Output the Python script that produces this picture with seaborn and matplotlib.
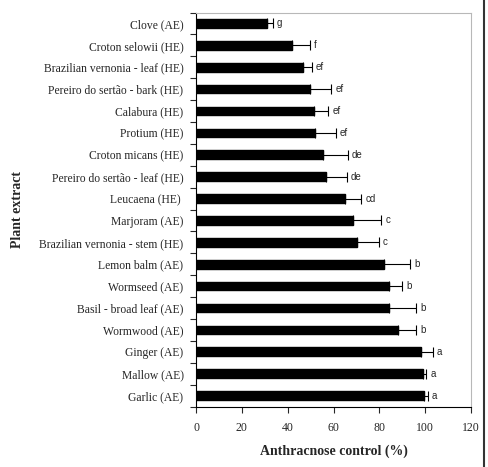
import numpy as np
import pandas as pd
import matplotlib
matplotlib.use('Agg')
import matplotlib.pyplot as plt
from matplotlib.lines import Line2D
import seaborn as sns

sns.set_style('white')
plt.rcParams['font.family'] = ['Liberation Serif', 'DejaVu Serif']

extracts = ['Clove (AE)', 'Croton selowii (HE)', 'Brazilian vernonia - leaf (HE)',
            'Pereiro do sertão - bark (HE)', 'Calabura (HE)', 'Protium (HE)',
            'Croton micans (HE)', 'Pereiro do sertão - leaf (HE)', 'Leucaena (HE) ',
            'Marjoram (AE)', 'Brazilian vernonia - stem (HE)', 'Lemon balm (AE)',
            'Wormseed (AE)', 'Basil - broad leaf (AE)', 'Wormwood (AE)',
            'Ginger (AE)', 'Mallow (AE)', 'Garlic (AE)']
control = [30.8, 41.9, 46.6, 49.8, 51.5, 52.0, 55.6, 56.8, 64.9,
           68.3, 70.2, 82.1, 84.0, 84.0, 88.1, 98.3, 99.0, 99.3]
error = [2.6, 7.9, 4.0, 9.3, 6.3, 9.0, 10.6, 9.0, 7.2,
         12.5, 9.6, 11.3, 6.1, 12.1, 8.0, 4.9, 1.4, 1.9]
letters = ['g', 'f', 'ef', 'ef', 'ef', 'ef', 'de', 'de', 'cd',
           'c', 'c', 'b', 'b', 'b', 'b', 'a', 'a', 'a']

df = pd.DataFrame({'extract': extracts, 'control': control, 'err': error, 'letter': letters})

fig = plt.figure(figsize=(4.88, 4.67), dpi=100)
ax = fig.add_axes([196/488, 1 - 406.5/467, 275/488, 394/467])

sns.barplot(data=df, x='control', y='extract', orient='h', color='black',
            width=0.4, errorbar=None, ax=ax, edgecolor='black')

ypos = np.arange(len(df))
ax.errorbar(df.control, ypos, xerr=[np.zeros(len(df)), df.err], fmt='none',
            ecolor='black', elinewidth=0.8, capsize=3.3, capthick=0.8)
for y, (v, e, t) in enumerate(zip(df.control, df.err, df.letter)):
    ax.text(v + e + 1.8, y, t, va='center', ha='left', fontsize=7,
            family=['Liberation Sans', 'DejaVu Sans'])

ax.set_xlim(0, 120)
ax.set_xticks(range(0, 121, 20))
ax.set_ylim(len(df) - 0.5, -0.5)
ax.set_yticks(np.arange(-0.5, len(df)), minor=True)
ax.tick_params(axis='y', which='major', length=0, labelsize=8.4, pad=9)
ax.tick_params(axis='y', which='minor', left=True, length=4, width=0.8, direction='out')
ax.tick_params(axis='x', bottom=True, length=4, width=0.8, direction='out', labelsize=8.5, pad=7)

for s in ['left', 'bottom']:
    ax.spines[s].set_color('black')
    ax.spines[s].set_linewidth(0.8)
for s in ['top', 'right']:
    ax.spines[s].set_color('#b8b8b8')
    ax.spines[s].set_linewidth(0.8)

ax.set_xlabel('Anthracnose control (%)', fontsize=10, fontweight='bold')
ax.xaxis.set_label_coords(0.5, -38/394)
ax.set_ylabel('Plant extract', fontsize=10, fontweight='bold')
ax.yaxis.set_label_coords(-172/275, 0.5)

fig.add_artist(Line2D([484/488, 484/488], [0, 1], color='#333333', lw=1.5))

fig.savefig('out.png', dpi=100)
